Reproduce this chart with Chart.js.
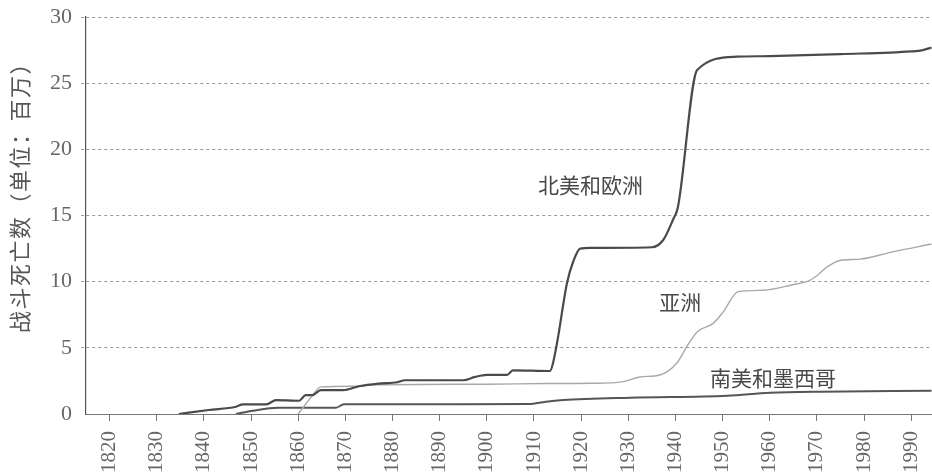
<!DOCTYPE html>
<html>
<head>
<meta charset="utf-8">
<script src="https://cdn.jsdelivr.net/npm/chart.js@4/dist/chart.umd.min.js"></script>
<style>
  html, body { margin: 0; padding: 0; background: #fff; }
  #wrap { width: 932px; height: 475px; }
</style>
</head>
<body>
<div id="wrap"><canvas id="battleChart" width="932" height="475"></canvas></div>
<script>
/* ==================== Data ==================== */
const tickYears = [1820, 1830, 1840, 1850, 1860, 1870, 1880, 1890, 1900, 1910,
                   1920, 1930, 1940, 1950, 1960, 1970, 1980, 1990];

// 北美和欧洲
const naYears  = [1834.7, 1841, 1846.8, 1848.3, 1853.2, 1855.3, 1860.2, 1861.6, 1863, 1864.8,
                  1869.5, 1872.9, 1877, 1881, 1882.6, 1895, 1897.5, 1900, 1904.3, 1905.5,
                  1913.4, 1914, 1915, 1917, 1918.4, 1919.8, 1922, 1935, 1937.4, 1939.5,
                  1940.5, 1944.6, 1953, 1960, 1975, 1990, 1992.5, 1994.3];
const naValues = [0, 0.3, 0.55, 0.73, 0.73, 1.05, 1.0, 1.43, 1.43, 1.8,
                  1.8, 2.1, 2.3, 2.4, 2.55, 2.55, 2.8, 2.95, 2.95, 3.3,
                  3.25, 3.8, 5.6, 9.9, 11.6, 12.5, 12.55, 12.6, 13.15, 14.7,
                  15.6, 26.0, 27.0, 27.05, 27.2, 27.4, 27.5, 27.7];

// 亚洲
const asiaYears  = [1860, 1861.5, 1863, 1864.8, 1872, 1876, 1900, 1912.5, 1922, 1928.9,
                    1932.5, 1936.7, 1940.3, 1942.6, 1944.6, 1948, 1950.1, 1953.3, 1958.6, 1964.6,
                    1968.5, 1970.2, 1972.1, 1974.9, 1979.1, 1986, 1994.3];
const asiaValues = [0, 0.7, 1.4, 2.05, 2.1, 2.2, 2.25, 2.3, 2.32, 2.45,
                    2.8, 2.95, 3.85, 5.2, 6.2, 6.85, 7.7, 9.25, 9.35, 9.75,
                    10.1, 10.5, 11.1, 11.6, 11.7, 12.25, 12.85];

// 南美和墨西哥
const saYears  = [1846.8, 1850.4, 1855.7, 1868, 1869.7, 1908.9, 1912.5, 1916.2, 1930.4, 1951,
                  1960, 1970.6, 1994.3];
const saValues = [0, 0.25, 0.48, 0.48, 0.73, 0.75, 0.93, 1.05, 1.23, 1.38,
                  1.6, 1.69, 1.75];

// 线旁标注 (年份, 数值)
const seriesLabels = ['北美和欧洲', '亚洲', '南美和墨西哥'];
const labelYears   = [1922, 1941, 1960.7];
const labelValues  = [17.3, 8.5, 2.75];

const yTitle = '战斗死亡数（单位：百万）';

/* ==================== Helpers ==================== */
function toPoints(xs, ys) {
    return xs.map((x, i) => ({ x: x, y: ys[i] }));
}

const SERIF = '"Liberation Serif", "DejaVu Serif", serif';
const CJK = '"Noto Sans CJK SC", "Noto Sans", sans-serif';

/* ==================== Label plugin ==================== */
const labelPlugin = {
    id: 'lineLabels',
    afterDraw(chart) {
        const ctx = chart.ctx;
        const xs = chart.scales.x;
        const ys = chart.scales.y;
        ctx.save();
        ctx.fillStyle = '#484848';
        ctx.font = '21px ' + CJK;
        ctx.textAlign = 'center';
        ctx.textBaseline = 'middle';
        seriesLabels.forEach((txt, i) => {
            ctx.fillText(txt, xs.getPixelForValue(labelYears[i]), ys.getPixelForValue(labelValues[i]));
        });

        // y axis title
        ctx.translate(20, 192);
        ctx.rotate(-Math.PI / 2);
        ctx.fillStyle = '#555';
        ctx.font = '22px ' + CJK;
        ctx.letterSpacing = '1.5px';
        ctx.fillText(yTitle, 0, 0);
        ctx.restore();
    }
};

/* ==================== Chart ==================== */
const lineBase = {
    pointRadius: 0,
    fill: false,
    cubicInterpolationMode: 'monotone'
};

new Chart(document.getElementById('battleChart'), {
    type: 'line',
    data: {
        datasets: [
            { ...lineBase, label: seriesLabels[0], data: toPoints(naYears, naValues),
              borderColor: '#4a4a4a', borderWidth: 2.2 },
            { ...lineBase, label: seriesLabels[1], data: toPoints(asiaYears, asiaValues),
              borderColor: '#a8a8a8', borderWidth: 1.4 },
            { ...lineBase, label: seriesLabels[2], data: toPoints(saYears, saValues),
              borderColor: '#555', borderWidth: 2 }
        ]
    },
    options: {
        responsive: false,
        animation: false,
        layout: { padding: { top: 17, right: 0, left: 0, bottom: 0 } },
        plugins: {
            legend: { display: false },
            tooltip: { enabled: false }
        },
        scales: {
            x: {
                type: 'linear',
                min: 1815,
                max: 1994.4,
                afterBuildTicks: axis => { axis.ticks = tickYears.map(v => ({ value: v })); },
                afterFit: s => {
                    s.height = 61;
                    s.paddingLeft = 0;
                    s.paddingRight = 0;
                },
                border: { display: true, color: '#777', width: 1 },
                grid: { drawOnChartArea: false, drawTicks: true, tickLength: 7, color: '#777' },
                ticks: {
                    minRotation: 90,
                    maxRotation: 90,
                    padding: 10,
                    color: '#666',
                    font: { family: SERIF, size: 21 },
                    callback: v => String(v)
                }
            },
            y: {
                min: 0,
                max: 30,
                afterFit: s => {
                    s.width = 86;
                    s.paddingTop = 0;
                    s.paddingBottom = 0;
                },
                border: { display: true, color: '#555', width: 1.2, dash: [3, 3] },
                grid: {
                    color: ctx => ctx.tick && ctx.tick.value === 0 ? 'rgba(0,0,0,0)' : '#9a9a9a',
                    tickBorderDash: [3, 3],
                    tickLength: 5,
                    lineWidth: 1
                },
                ticks: {
                    stepSize: 5,
                    padding: 9,
                    color: '#666',
                    font: { family: SERIF, size: 22 }
                }
            }
        }
    },
    plugins: [labelPlugin]
});
</script>
</body>
</html>
